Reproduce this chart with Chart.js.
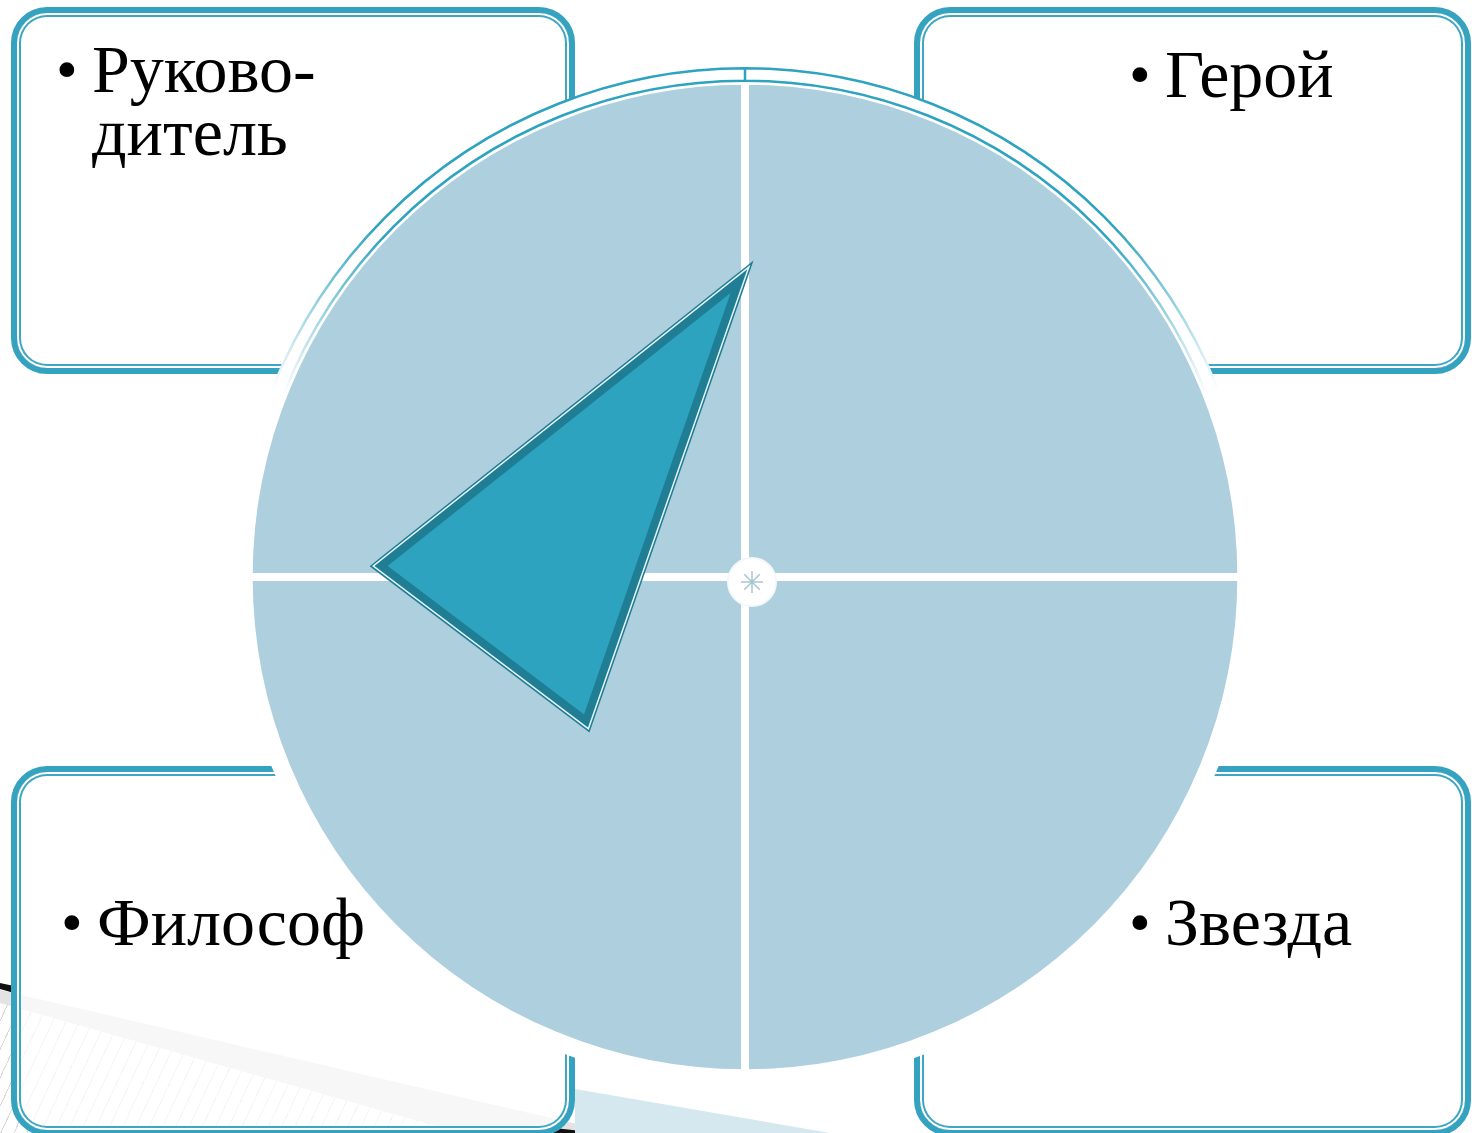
<!DOCTYPE html>
<html lang="ru">
<head>
<meta charset="utf-8">
<title>Роли</title>
<script src="https://cdn.jsdelivr.net/npm/chart.js@4.4.1/dist/chart.umd.min.js"></script>
<style>
  html, body { margin: 0; padding: 0; }
  body { width: 1472px; height: 1133px; position: relative; overflow: hidden; background: #ffffff; font-family: "Liberation Serif", "DejaVu Serif", serif; }
  .deco { position: absolute; left: 0; top: 0; width: 1472px; height: 1133px; }
  .hatch { background: repeating-linear-gradient(115deg, rgba(0,0,0,0) 0 11px, #d9d9d9 11px 12px); clip-path: polygon(0 1000px, 620px 1160px, 0 1160px); }
  .band { background: #e3e3e3; clip-path: polygon(0 990px, 620px 1134px, 620px 1178px, 0 1003px); }
  .ink1 { background: #111; clip-path: polygon(0 983px, 14px 986px, 14px 993px, 0 989px); }
  .ink2 { background: #111; clip-path: polygon(545px 1127px, 600px 1133px, 545px 1133px); }
  .wedge { background: #d5e8f0; clip-path: polygon(575px 1089px, 830px 1133px, 575px 1133px); }
  .box {
    position: absolute; box-sizing: border-box;
    border: 6px solid #35a2bf; border-radius: 36px;
    box-shadow: inset 0 0 0 2px #ffffff, inset 0 0 0 4px #3ea6c2;
    background: rgba(255,255,255,0.72);
  }
  .label { position: absolute; font-size: 68px; line-height: 63px; color: #000; white-space: nowrap; }
  .label .dot { position: absolute; left: -36px; font-size: 62px; }
  canvas { position: absolute; }
</style>
</head>
<body>
<div class="deco hatch"></div>
<div class="deco band"></div>
<div class="deco ink1"></div>
<div class="deco ink2"></div>
<div class="deco wedge"></div>

<div class="box" style="left:11px; top:7px; width:564px; height:367px;"></div>
<div class="box" style="left:914px; top:7px; width:557px; height:367px;"></div>
<div class="box" style="left:11px; top:766px; width:564px; height:370px;"></div>
<div class="box" style="left:914px; top:766px; width:557px; height:370px;"></div>

<div id="labels"></div>

<canvas id="pie" width="1020" height="1020" style="left:235px; top:67px;"></canvas>
<canvas id="tri" width="1000" height="1000" style="left:245px; top:77px;"></canvas>

<script>
// quadrants, clockwise from the top
const categories = ['Герой', 'Звезда', 'Философ', 'Руководитель'];
const sliceValues = [1, 1, 1, 1];

// caption lines for each quadrant box (same order as categories)
const captionLines = [['Герой'], ['Звезда'], ['Философ'], ['Руково-', 'дитель']];
const captionPos = [
  { left: 1165, top: 43 },
  { left: 1165, top: 891 },
  { left: 97, top: 891 },
  { left: 92, top: 38 }
];

// profile triangle, units = px from the circle centre (y up)
const triangleX = [-6, -364, -159];
const triangleY = [296, 11, -144];

// small ornament on the centre of the cross
const hubX = [7];
const hubY = [-5];

const BLUE = '#aecfdd';
const TEAL = '#2da3bf';
const TEAL_DARK = '#1f7d94';

// captions
const labelsEl = document.getElementById('labels');
captionLines.forEach((lines, i) => {
  const div = document.createElement('div');
  div.className = 'label';
  div.style.left = captionPos[i].left + 'px';
  div.style.top = captionPos[i].top + 'px';
  lines.forEach((line, j) => {
    const row = document.createElement('div');
    row.style.position = 'relative';
    if (j === 0) {
      const dot = document.createElement('span');
      dot.className = 'dot';
      dot.textContent = '•';
      row.appendChild(dot);
    }
    row.appendChild(document.createTextNode(line));
    div.appendChild(row);
  });
  labelsEl.appendChild(div);
});

// teal rim on the upper part of the outer ring
const rimGradient = (context) => {
  const { chart } = context;
  const area = chart.chartArea;
  if (!area) return TEAL;
  const cx = (area.left + area.right) / 2;
  const cy = (area.top + area.bottom) / 2;
  const g = chart.ctx.createConicGradient(0, cx, cy);
  g.addColorStop(0, '#ffffff');
  g.addColorStop(0.56, '#ffffff');
  g.addColorStop(0.62, TEAL);
  g.addColorStop(0.88, TEAL);
  g.addColorStop(0.94, '#ffffff');
  g.addColorStop(1, '#ffffff');
  return g;
};

new Chart(document.getElementById('pie').getContext('2d'), {
  type: 'pie',
  data: {
    labels: categories,
    datasets: [
      {
        label: 'rim',
        data: [1],
        backgroundColor: '#ffffff',
        borderColor: rimGradient,
        borderWidth: 2.5,
        weight: 1
      },
      {
        label: 'Роли',
        data: sliceValues,
        backgroundColor: BLUE,
        borderColor: '#ffffff',
        borderWidth: 8,
        weight: 40
      }
    ]
  },
  options: {
    responsive: false,
    animation: false,
    events: [],
    layout: { padding: 0 },
    plugins: {
      legend: { display: false },
      tooltip: { enabled: false }
    }
  }
});

// walk the triangle once and repeat its first edge so every corner gets a mitred join
const triPoints = triangleX.map((x, i) => ({ x, y: triangleY[i] }));
triPoints.push(triPoints[0], triPoints[1]);
const hubPoints = hubX.map((x, i) => ({ x, y: hubY[i] }));

const triLine = {
  data: triPoints,
  showLine: true,
  pointRadius: 0,
  tension: 0,
  borderJoinStyle: 'miter'
};

new Chart(document.getElementById('tri').getContext('2d'), {
  type: 'scatter',
  data: {
    datasets: [
      {
        label: 'hub star',
        data: hubPoints,
        pointStyle: 'star',
        pointRadius: 11,
        borderColor: '#a9c6d3',
        borderWidth: 1.5,
        order: 0
      },
      {
        label: 'hub',
        data: hubPoints,
        pointStyle: 'circle',
        pointRadius: 24,
        backgroundColor: '#ffffff',
        borderColor: '#f3f8fa',
        borderWidth: 2,
        order: 1
      },
      Object.assign({}, triLine, {
        label: 'Профиль',
        borderColor: TEAL_DARK,
        borderWidth: 8,
        backgroundColor: TEAL,
        fill: 'shape',
        order: 2
      }),
      Object.assign({}, triLine, {
        label: 'white edge',
        borderColor: '#e9f5f9',
        borderWidth: 11,
        fill: false,
        order: 3
      }),
      Object.assign({}, triLine, {
        label: 'outer edge',
        borderColor: TEAL_DARK,
        borderWidth: 14,
        fill: false,
        order: 4
      })
    ]
  },
  options: {
    responsive: false,
    animation: false,
    events: [],
    layout: { padding: 0, autoPadding: false },
    scales: {
      x: { type: 'linear', min: -500, max: 500, display: false },
      y: { type: 'linear', min: -500, max: 500, display: false }
    },
    plugins: {
      legend: { display: false },
      tooltip: { enabled: false }
    }
  }
});
</script>
</body>
</html>
